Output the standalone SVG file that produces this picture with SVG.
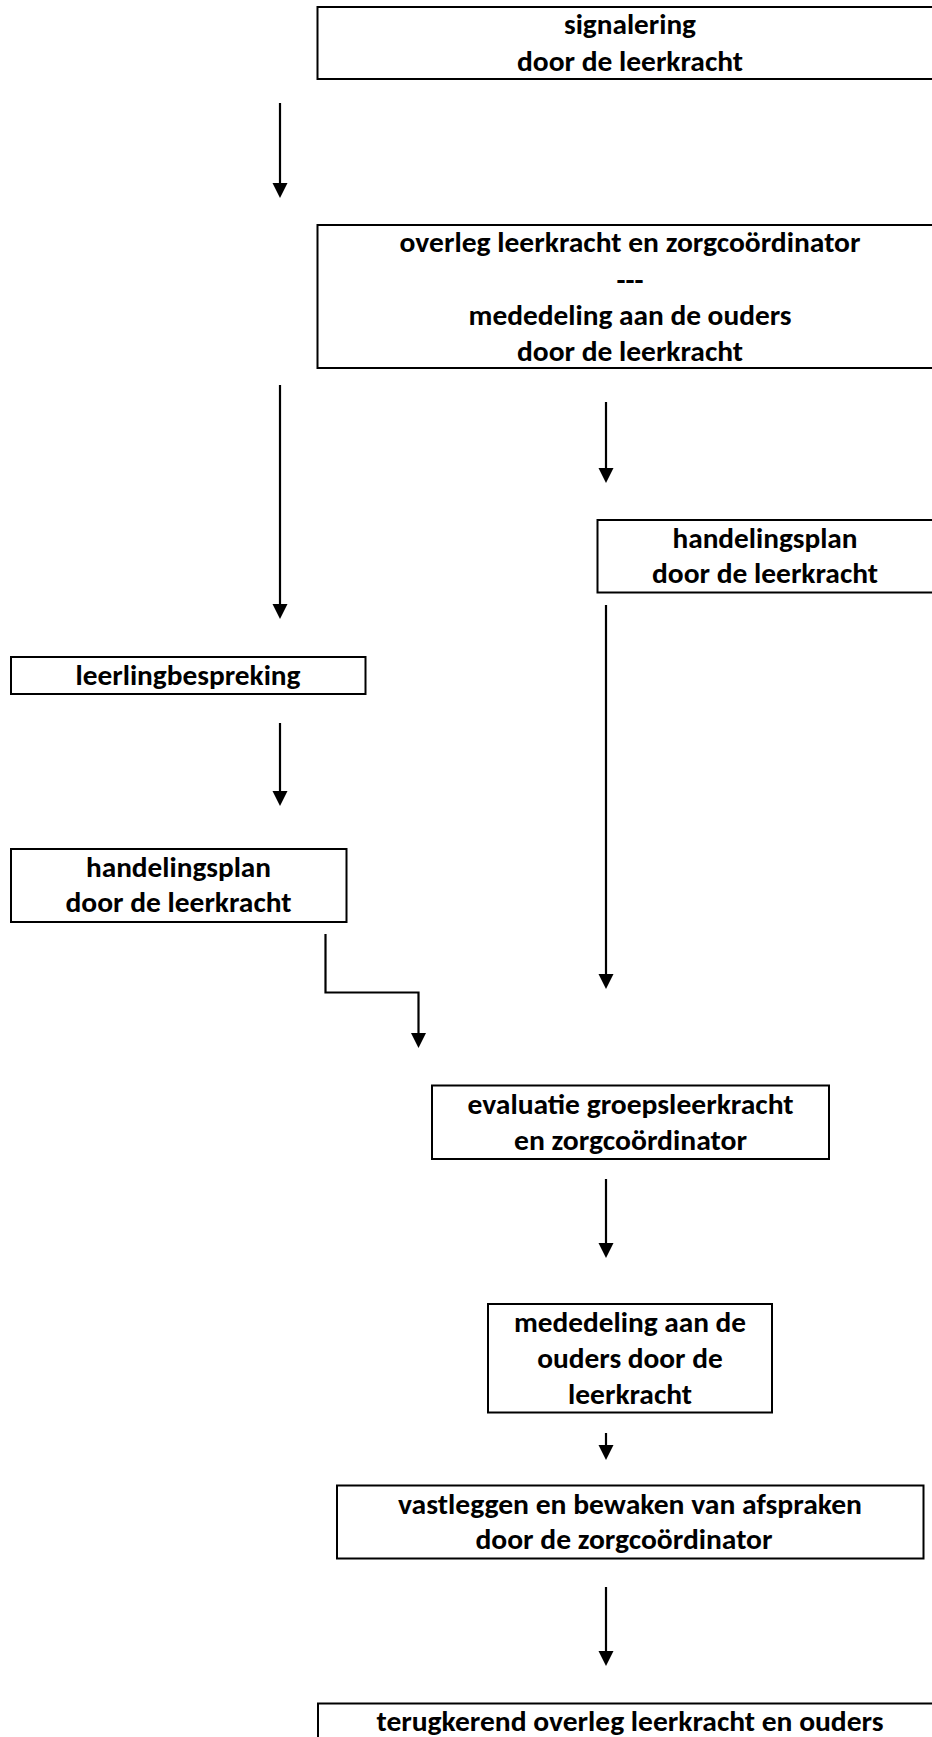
<svg xmlns="http://www.w3.org/2000/svg" width="932" height="1737" viewBox="0 0 932 1737">
<style>
.box{fill:#fff;stroke:#000;stroke-width:2}
.t{font-family:Carlito,Lato,"Open Sans",sans-serif;font-weight:bold;font-size:29px;fill:#000;text-anchor:middle}
.c{fill:none;stroke:#000;stroke-width:2.2}
</style>
<defs>
<marker id="ah" markerUnits="userSpaceOnUse" markerWidth="16" markerHeight="16" refX="1" refY="7.5" orient="auto">
<path d="M0,0 L15,7.5 L0,15 z" fill="#000"/>
</marker>
</defs>
<rect width="932" height="1737" fill="#fff"/>
<g id="n1">
<rect class="box" x="317.5" y="7" width="626" height="72"/>
<text class="t" x="630" y="34" textLength="132" lengthAdjust="spacingAndGlyphs">signalering</text>
<text class="t" x="630" y="70.5" textLength="226" lengthAdjust="spacingAndGlyphs">door de leerkracht</text>
</g>
<g id="n2">
<rect class="box" x="317.5" y="225" width="626" height="143"/>
<text class="t" x="630" y="252" textLength="461" lengthAdjust="spacingAndGlyphs">overleg leerkracht en zorgcoördinator</text>
<text class="t" x="630" y="290" textLength="27" lengthAdjust="spacingAndGlyphs">---</text>
<text class="t" x="630" y="324.5" textLength="323" lengthAdjust="spacingAndGlyphs">mededeling aan de ouders</text>
<text class="t" x="630" y="360.5" textLength="226" lengthAdjust="spacingAndGlyphs">door de leerkracht</text>
</g>
<g id="n3">
<rect class="box" x="597.5" y="520" width="336" height="72.5"/>
<text class="t" x="765" y="547.5" textLength="185" lengthAdjust="spacingAndGlyphs">handelingsplan</text>
<text class="t" x="765" y="583" textLength="226" lengthAdjust="spacingAndGlyphs">door de leerkracht</text>
</g>
<g id="n4">
<rect class="box" x="11" y="657" width="354.5" height="37"/>
<text class="t" x="188" y="684.5" textLength="225" lengthAdjust="spacingAndGlyphs">leerlingbespreking</text>
</g>
<g id="n5">
<rect class="box" x="11" y="849" width="335.5" height="73"/>
<text class="t" x="178.5" y="876.5" textLength="185" lengthAdjust="spacingAndGlyphs">handelingsplan</text>
<text class="t" x="178.5" y="912" textLength="226" lengthAdjust="spacingAndGlyphs">door de leerkracht</text>
</g>
<g id="n6">
<rect class="box" x="432" y="1085.5" width="397" height="73.5"/>
<text class="t" x="630.5" y="1113.5" textLength="326" lengthAdjust="spacingAndGlyphs">evaluatie groepsleerkracht</text>
<text class="t" x="630.5" y="1149.5" textLength="233" lengthAdjust="spacingAndGlyphs">en zorgcoördinator</text>
</g>
<g id="n7">
<rect class="box" x="488" y="1304" width="284" height="108.5"/>
<text class="t" x="630" y="1331.5" textLength="232" lengthAdjust="spacingAndGlyphs">mededeling aan de</text>
<text class="t" x="630" y="1367.5" textLength="185.5" lengthAdjust="spacingAndGlyphs">ouders door de</text>
<text class="t" x="630" y="1403.5" textLength="124" lengthAdjust="spacingAndGlyphs">leerkracht</text>
</g>
<g id="n8">
<rect class="box" x="337" y="1485.5" width="586.5" height="73"/>
<text class="t" x="630" y="1513.5" textLength="464" lengthAdjust="spacingAndGlyphs">vastleggen en bewaken van afspraken</text>
<text class="t" x="624" y="1549" textLength="297" lengthAdjust="spacingAndGlyphs">door de zorgcoördinator</text>
</g>
<g id="n9">
<rect class="box" x="318" y="1703.5" width="625" height="60"/>
<text class="t" x="630" y="1731" textLength="507" lengthAdjust="spacingAndGlyphs">terugkerend overleg leerkracht en ouders</text>
</g>
<g id="connectors">
<path class="c" d="M280,103 V184" marker-end="url(#ah)"/>
<path class="c" d="M280,385 V605" marker-end="url(#ah)"/>
<path class="c" d="M606,402 V469" marker-end="url(#ah)"/>
<path class="c" d="M606,605 V975" marker-end="url(#ah)"/>
<path class="c" d="M280,723 V792" marker-end="url(#ah)"/>
<path class="c" d="M325.5,934 V992.5 H418.5 V1034" marker-end="url(#ah)"/>
<path class="c" d="M606,1179 V1244" marker-end="url(#ah)"/>
<path class="c" d="M606,1433 V1446" marker-end="url(#ah)"/>
<path class="c" d="M606,1587 V1652" marker-end="url(#ah)"/>
</g>
</svg>
